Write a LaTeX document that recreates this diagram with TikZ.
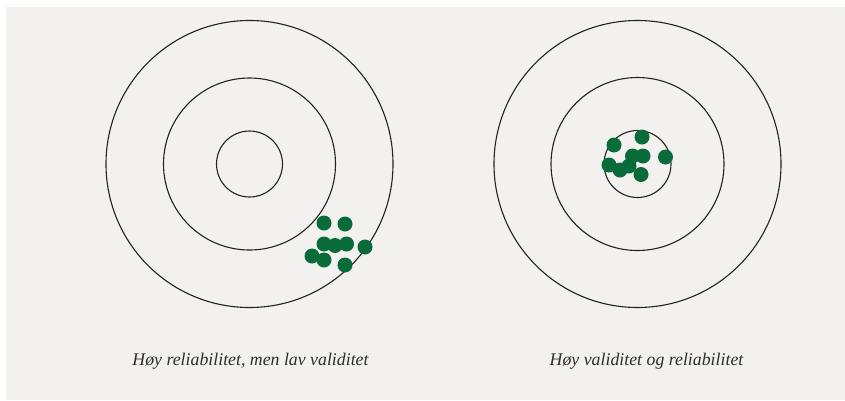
\documentclass[tikz,border=0pt]{standalone}
\usepackage{fontspec}
\setmainfont{Liberation Serif}
\definecolor{panelbg}{HTML}{F2F1EF}
\definecolor{shot}{HTML}{0A6B3A}
\definecolor{ringcol}{HTML}{222222}
\definecolor{capcol}{HTML}{2E2E2E}
\begin{document}
\begin{tikzpicture}[x=1pt,y=-1pt,
  ring/.style={draw=ringcol,line width=1.1pt},
  hit/.style={circle,fill=shot,inner sep=0pt,minimum size=15pt},
  caption/.style={font=\fontsize{17.8}{21}\selectfont\itshape,text=capcol,anchor=base}]
  \useasboundingbox (0,0) rectangle (845,400);
  \fill[white] (0,0) rectangle (845,400);
  \fill[panelbg] (6,7) rectangle (845,400);

  % left target: tight grouping, off centre
  \coordinate (lc) at (249.5,164);
  \draw[ring] (lc) circle (143.5);
  \draw[ring] (lc) circle (86);
  \draw[ring] (lc) circle (33);
  \foreach \n/\p in {a/{324,223}, b/{345,224}, c/{324,244}, d/{335,245.5},
                     e/{346.5,244}, f/{365,247}, g/{312,256}, h/{324,260}, i/{345,265}}
    \node[hit] (L\n) at (\p) {};

  % right target: tight grouping, on centre
  \coordinate (rc) at (637.5,164);
  \draw[ring] (rc) circle (143.5);
  \draw[ring] (rc) circle (86.5);
  \draw[ring] (rc) circle (33.5);
  \foreach \n/\p in {a/{614,145}, b/{642,137}, c/{632.5,156}, d/{643,156},
                     e/{665.5,157}, f/{609,165}, g/{620,170}, h/{629,166}, i/{641,174.5}}
    \node[hit] (R\n) at (\p) {};

  \node[caption] (capL) at (250.5,365) {Høy reliabilitet, men lav validitet};
  \node[caption] (capR) at (646.5,365) {Høy validitet og reliabilitet};
\end{tikzpicture}
\end{document}
